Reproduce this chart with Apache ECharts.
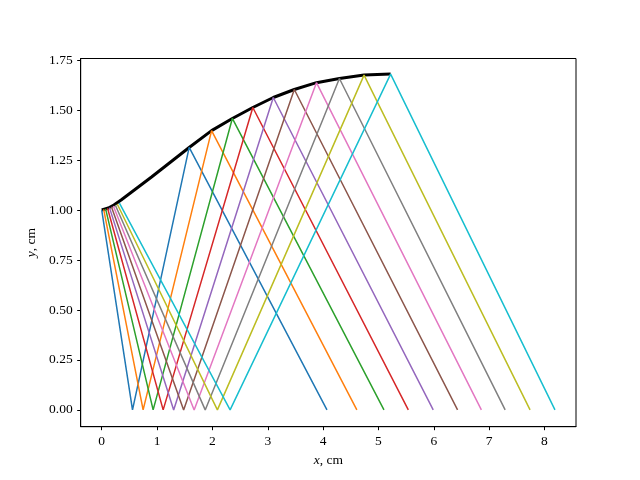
<!DOCTYPE html>
<html>
<head>
<meta charset="utf-8">
<script src="https://cdn.jsdelivr.net/npm/echarts@6/dist/echarts.min.js"></script>
<style>html,body{margin:0;padding:0;background:#fff;}#c{width:640px;height:480px;}</style>
</head>
<body>
<div id="c"></div>
<script>
const colors = ['#1f77b4','#ff7f0e','#2ca02c','#d62728','#9467bd','#8c564b','#e377c2','#7f7f7f','#bcbd22','#17becf'];
const startX = [0.0, 0.035, 0.07, 0.105, 0.14, 0.175, 0.21, 0.245, 0.28, 0.32];
const startY = [1.0, 1.003, 1.006, 1.009, 1.012, 1.016, 1.02, 1.025, 1.03, 1.035];
const bounceX = [0.556, 0.748, 0.929, 1.11, 1.30, 1.48, 1.67, 1.87, 2.09, 2.32];
const peakX = [1.58, 1.985, 2.36, 2.73, 3.10, 3.48, 3.88, 4.295, 4.74, 5.22];
const peakY = [1.313, 1.397, 1.458, 1.513, 1.563, 1.603, 1.637, 1.658, 1.675, 1.68];
const endX = [4.07, 4.61, 5.10, 5.54, 5.99, 6.43, 6.86, 7.29, 7.74, 8.19];
const curveX = [0.0, 0.12, 0.22, 0.35, 0.9, 1.58, 1.985, 2.36, 2.73, 3.10, 3.48, 3.88, 4.295, 4.74, 5.22];
const curveY = [1.0, 1.01, 1.025, 1.05, 1.165, 1.313, 1.397, 1.458, 1.513, 1.563, 1.603, 1.637, 1.658, 1.675, 1.68];
const xTicks = [0,1,2,3,4,5,6,7,8];
const yTicks = [0,0.25,0.5,0.75,1.0,1.25,1.5,1.75];

const font = 'Liberation Serif';
const fs = 13.5;
const series = [];
series.push({
  type:'line', symbol:'none', silent:true, z:2,
  data: curveX.map((x,i)=>[x,curveY[i]]),
  lineStyle:{color:'#000', width:3}
});
for (let i=0;i<startX.length;i++){
  series.push({
    type:'line', symbol:'none', silent:true, z:3,
    data:[[startX[i],startY[i]],[bounceX[i],0],[peakX[i],peakY[i]],[endX[i],0]],
    lineStyle:{color:colors[i], width:1.5}
  });
}
const chart = echarts.init(document.getElementById('c'), null, {renderer:'canvas'});
chart.setOption({
  animation:false,
  backgroundColor:'#fff',
  grid:{left:80.7, right:64, top:58.5, bottom:53.3, show:true, borderColor:'#000', borderWidth:1, backgroundColor:'transparent'},
  xAxis:{
    type:'value', min:-0.38, max:8.57,
    axisLine:{show:true, onZero:false, lineStyle:{color:'#000', width:1}},
    axisTick:{show:true, length:3.5, customValues:xTicks, lineStyle:{color:'#000'}},
    axisLabel:{customValues:xTicks, color:'#000', fontFamily:font, fontSize:fs, margin:8, formatter:v=>String(v)},
    splitLine:{show:false},
    name:'{i|x}, cm', nameLocation:'middle', nameGap:26,
    nameTextStyle:{color:'#000', fontFamily:font, fontSize:fs, rich:{i:{fontStyle:'italic', fontFamily:font, fontSize:fs, color:'#000'}}}
  },
  yAxis:{
    type:'value', min:-0.084, max:1.758,
    axisLine:{show:true, onZero:false, lineStyle:{color:'#000', width:1}},
    axisTick:{show:true, length:3.5, customValues:yTicks, lineStyle:{color:'#000'}},
    axisLabel:{customValues:yTicks, color:'#000', fontFamily:font, fontSize:fs, margin:8, formatter:v=>v.toFixed(2)},
    splitLine:{show:false},
    name:'{i|y}, cm', nameLocation:'middle', nameGap:38, nameRotate:90,
    nameTextStyle:{color:'#000', fontFamily:font, fontSize:fs, rich:{i:{fontStyle:'italic', fontFamily:font, fontSize:fs, color:'#000'}}}
  },
  series: series
});
</script>
</body>
</html>
